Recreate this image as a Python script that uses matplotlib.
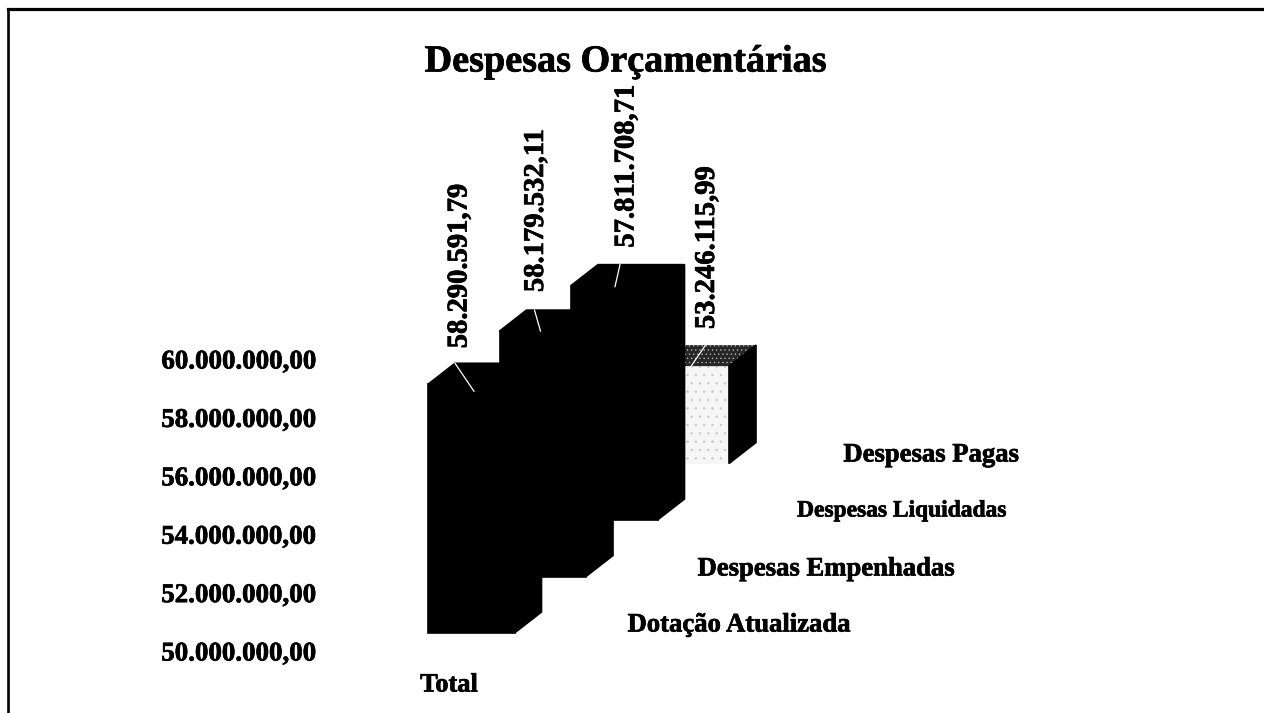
import matplotlib
matplotlib.use("Agg")
import matplotlib.pyplot as plt
from matplotlib.patches import Polygon
from matplotlib.lines import Line2D
import matplotlib.patheffects as pe

# ---- data ----
title = "Despesas Orçamentárias"
category = "Total"
series_names = ["Dotação Atualizada", "Despesas Empenhadas", "Despesas Liquidadas", "Despesas Pagas"]
series_values = [58290591.79, 58179532.11, 57811708.71, 53246115.99]
value_labels = ["58.290.591,79", "58.179.532,11", "57.811.708,71", "53.246.115,99"]
axis_ticks = [50e6, 52e6, 54e6, 56e6, 58e6, 60e6]
axis_tick_labels = ["50.000.000,00", "52.000.000,00", "54.000.000,00",
                    "56.000.000,00", "58.000.000,00", "60.000.000,00"]

# ---- layout (pixels of the 1264x713 canvas) ----
W, H = 1264, 713
BASE = 50e6
PX_PER_UNIT = 30 / 1e6     # vertical pixels per currency unit
SLOT_DX = 71.5             # horizontal shift from series to series
SLOT_DY = 56.5             # vertical shift from series to series
BAR_W = 86.5
DEPTH_DX, DEPTH_DY = 27, 21
LEFT0, BOTTOM0 = 428, 633
FRAME_L, FRAME_T = 7.5, 9

plt.rcParams["font.family"] = ["Liberation Serif", "DejaVu Serif"]
plt.rcParams["hatch.linewidth"] = 0.4
fig = plt.figure(figsize=(W / 100, H / 100), dpi=100, facecolor="white")
heavy = [pe.withStroke(linewidth=0.5, foreground="black")]

# main canvas: x in series slots, y in currency
ax = fig.add_axes([FRAME_L / W, 0, (W - FRAME_L) / W, (H - FRAME_T) / H])
ax.set_xlim((FRAME_L - LEFT0) / SLOT_DX, (W - LEFT0) / SLOT_DX)
ax.set_ylim(BASE + (BOTTOM0 - H) / PX_PER_UNIT, BASE + (BOTTOM0 - FRAME_T) / PX_PER_UNIT)
for s in ["right", "bottom"]:
    ax.spines[s].set_visible(False)
ax.spines["top"].set_linewidth(2.3)
ax.spines["left"].set_linewidth(1.9)
ax.set_xticks([])
ax.set_yticks([])
ax.patch.set_alpha(0)

bw = BAR_W / SLOT_DX
ddx = DEPTH_DX / SLOT_DX
ddy = DEPTH_DY / PX_PER_UNIT
sdy = SLOT_DY / PX_PER_UNIT

front_colors = ["#000000", "#000000", "#000000", "#f5f5f5"]
top_colors = ["#000000", "#000000", "#000000", "#262626"]
side_colors = ["#000000"] * 4
front_hatch = [None, None, None, ".."]
top_hatch = [None, None, None, "...."]
hatch_colors = ["#000000", "#000000", "#000000", "#c4c4c4"]
# leader start (px along the back edge), leader run and drop (px)
leader_start = [0, 8, 22, 36]
leader_run = [19, 6, -5, -15]
leader_drop = [28, 21, 22, 22]
label_shift = [(4, 15), (9, 18), (28, 17), (37, 16)]


def face(points, color, z, hatch=None, hatch_color=None):
    ax.add_patch(Polygon(points, closed=True, fc=color,
                         ec=hatch_color if hatch else color,
                         lw=0 if hatch else 1.2, hatch=hatch, zorder=z))


for i in reversed(range(len(series_values))):
    v = series_values[i]
    x0, x1 = i, i + bw
    b = BASE + i * sdy
    t = v + i * sdy
    z = 5 - i
    face([(x0, b), (x1, b), (x1, t), (x0, t)], front_colors[i], z,
         front_hatch[i], hatch_colors[i])
    face([(x0, t), (x0 + ddx, t + ddy), (x1 + ddx, t + ddy), (x1, t)], top_colors[i], z,
         top_hatch[i], hatch_colors[i])
    face([(x1, b), (x1 + ddx, b + ddy), (x1 + ddx, t + ddy), (x1, t)], side_colors[i], z)

    # leader line from the top back edge towards the bar
    lx = x0 + ddx + leader_start[i] / SLOT_DX
    ax.add_line(Line2D([lx, lx + leader_run[i] / SLOT_DX],
                       [t + ddy, t + ddy - leader_drop[i] / PX_PER_UNIT],
                       color="white", lw=0.9, zorder=6))

    # rotated value label
    ax.annotate(value_labels[i], xy=(x0 + ddx, t + ddy),
                xytext=label_shift[i], textcoords="offset pixels",
                rotation=90, ha="center", va="bottom",
                fontsize=20.6, fontweight="bold", color="black", zorder=7,
                path_effects=heavy)

# value axis, drawn on its own axes because the 3D view shifts it
axis_left, axis_right = 161, 315
y60, y50 = 359, 651
ax2 = fig.add_axes([axis_left / W, (H - y50) / H, (axis_right - axis_left) / W, (y50 - y60) / H])
ax2.set_ylim(axis_ticks[0], axis_ticks[-1])
ax2.set_yticks(axis_ticks)
ax2.set_yticklabels(axis_tick_labels, fontsize=19.4, fontweight="bold", path_effects=heavy)
ax2.tick_params(axis="y", length=0, pad=0, labelright=True, labelleft=False)
for lab in ax2.get_yticklabels():
    lab.set_ha("right")
ax2.set_xticks([])
for s in ax2.spines.values():
    s.set_visible(False)
ax2.patch.set_alpha(0)

# title, category and series names
fig.text(625.5 / W, 1 - 62 / H, title, ha="center", va="center",
         fontsize=27.5, fontweight="bold", color="black", path_effects=heavy)
fig.text(449 / W, 1 - 685 / H, category, ha="center", va="center",
         fontsize=19, fontweight="bold", color="black", path_effects=heavy)
name_pos = [(739, 625), (826, 569), (902, 511), (931, 455)]
name_size = [19.2, 19.2, 16.9, 19.2]
for name, (px, py), fs in zip(series_names, name_pos, name_size):
    fig.text(px / W, 1 - py / H, name, ha="center", va="center",
             fontsize=fs, fontweight="bold", color="black", path_effects=heavy)

fig.savefig("out.png", dpi=100)
